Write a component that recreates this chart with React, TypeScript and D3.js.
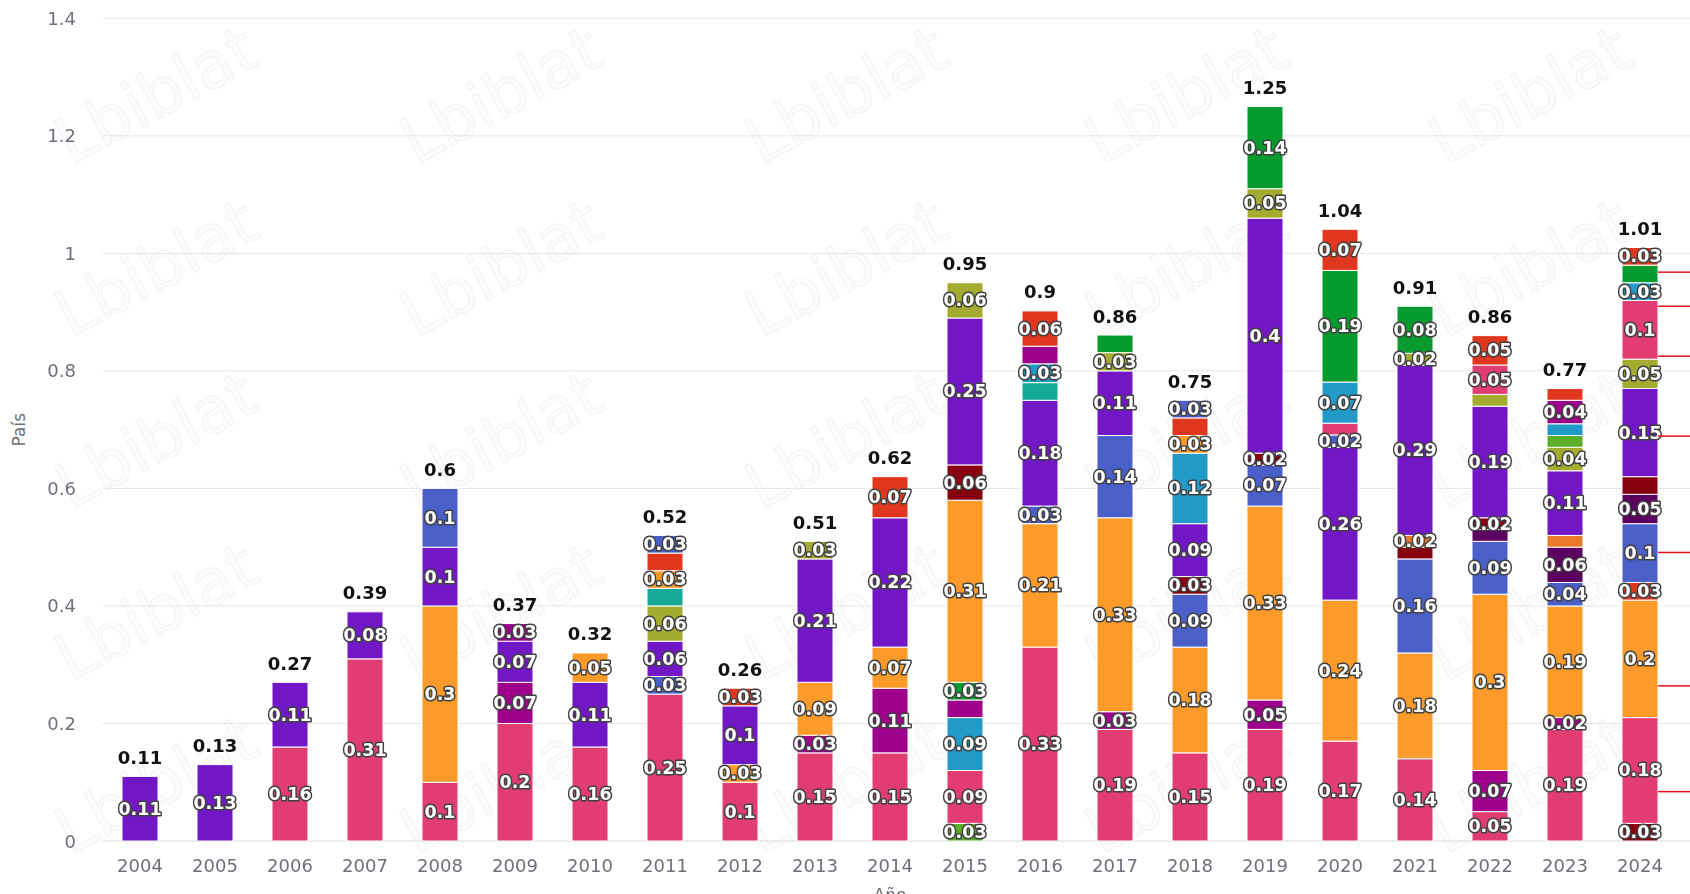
import React from 'react';
import * as d3 from 'd3';

// categories
const years = [
  '2004', '2005', '2006', '2007', '2008', '2009', '2010', '2011', '2012', '2013', '2014',
  '2015', '2016', '2017', '2018', '2019', '2020', '2021', '2022', '2023', '2024',
];

const yTicks = [0, 0.2, 0.4, 0.6, 0.8, 1, 1.2, 1.4];

// series values, one value per year, in stacking order (bottom first)
const darkRed0 = [0, 0, 0, 0, 0, 0, 0, 0, 0, 0, 0, 0, 0, 0, 0, 0, 0, 0, 0, 0, 0.03];
const lightGreen1 = [0, 0, 0, 0, 0, 0, 0, 0, 0, 0, 0, 0.03, 0, 0, 0, 0, 0, 0, 0, 0, 0];
const pink1 = [0, 0, 0.16, 0.31, 0.1, 0.2, 0.16, 0.25, 0.1, 0.15, 0.15, 0.09, 0.33, 0.19, 0.15, 0.19, 0.17, 0.14, 0.05, 0.19, 0.18];
const cyan1 = [0, 0, 0, 0, 0, 0, 0, 0, 0, 0, 0, 0.09, 0, 0, 0, 0, 0, 0, 0, 0, 0];
const magenta1 = [0, 0, 0, 0, 0, 0.07, 0, 0, 0, 0.03, 0.11, 0.03, 0, 0.03, 0, 0.05, 0, 0, 0.07, 0.02, 0];
const green1 = [0, 0, 0, 0, 0, 0, 0, 0, 0, 0, 0, 0.03, 0, 0, 0, 0, 0, 0, 0, 0, 0];
const orange1 = [0, 0, 0, 0, 0.3, 0, 0, 0, 0.03, 0.09, 0.07, 0.31, 0.21, 0.33, 0.18, 0.33, 0.24, 0.18, 0.3, 0.19, 0.2];
const red1 = [0, 0, 0, 0, 0, 0, 0, 0, 0, 0, 0, 0, 0, 0, 0, 0, 0, 0, 0, 0, 0.03];
const blue1 = [0, 0, 0, 0, 0, 0, 0, 0.03, 0, 0, 0, 0, 0.03, 0.14, 0.09, 0.07, 0, 0.16, 0.09, 0.04, 0.1];
const darkPurple1 = [0, 0, 0, 0, 0, 0, 0, 0, 0, 0, 0, 0, 0, 0, 0, 0, 0, 0, 0.02, 0.06, 0.05];
const darkRed1 = [0, 0, 0, 0, 0, 0, 0, 0, 0, 0, 0, 0.06, 0, 0, 0.03, 0.02, 0, 0.02, 0.02, 0, 0.03];
const darkOrange1 = [0, 0, 0, 0, 0, 0, 0, 0, 0, 0, 0, 0, 0, 0, 0, 0, 0, 0.02, 0, 0.02, 0];
const violet = [0.11, 0.13, 0.11, 0.08, 0.1, 0.07, 0.11, 0.06, 0.1, 0.21, 0.22, 0.25, 0.18, 0.11, 0.09, 0.4, 0.26, 0.29, 0.19, 0.11, 0.15];
const blueV = [0, 0, 0, 0, 0, 0, 0, 0, 0, 0, 0, 0, 0, 0, 0, 0, 0.021, 0, 0, 0, 0];
const olive = [0, 0, 0, 0, 0, 0, 0, 0.06, 0, 0.03, 0, 0.06, 0, 0.031, 0, 0.05, 0, 0.02, 0.02, 0.04, 0.05];
const teal = [0, 0, 0, 0, 0, 0, 0, 0.03, 0, 0, 0, 0, 0.03, 0, 0, 0, 0, 0, 0, 0, 0];
const lightGreen2 = [0, 0, 0, 0, 0, 0, 0, 0, 0, 0, 0, 0, 0, 0, 0, 0, 0, 0, 0, 0.02, 0];
const pink2 = [0, 0, 0, 0, 0, 0, 0, 0, 0, 0, 0, 0, 0, 0, 0, 0, 0.02, 0, 0.05, 0, 0.1];
const cyan2 = [0, 0, 0, 0, 0, 0, 0, 0, 0, 0, 0, 0, 0.032, 0, 0.12, 0, 0.07, 0, 0, 0.02, 0.03];
const magenta2 = [0, 0, 0, 0, 0, 0.03, 0, 0, 0, 0, 0, 0, 0.03, 0, 0, 0, 0, 0, 0, 0.04, 0];
const green2 = [0, 0, 0, 0, 0, 0, 0, 0, 0, 0, 0, 0, 0, 0.03, 0, 0.14, 0.19, 0.08, 0, 0, 0.03];
const orange2 = [0, 0, 0, 0, 0, 0, 0.05, 0.03, 0, 0, 0, 0, 0, 0, 0.03, 0, 0, 0, 0, 0, 0];
const red2 = [0, 0, 0, 0, 0, 0, 0, 0.03, 0.03, 0, 0.07, 0, 0.06, 0, 0.03, 0, 0.07, 0, 0.05, 0.02, 0.03];
const blue2 = [0, 0, 0, 0, 0.1, 0, 0, 0.03, 0, 0, 0, 0, 0, 0, 0.03, 0, 0, 0, 0, 0, 0];

// red pointer lines on the right edge (values on the y axis)
const pointerValues = [0.968, 0.91, 0.825, 0.689, 0.491, 0.264, 0.084];

const C = {
  pink: '#e13d73',
  violet: '#7217c5',
  orange: '#fd9b2a',
  blue: '#4a5fc8',
  magenta: '#9d008a',
  red: '#e0381f',
  teal: '#14aa97',
  olive: '#a3ac2f',
  darkRed: '#87000f',
  cyan: '#219ac7',
  green: '#079a2e',
  lightGreen: '#5bae28',
  darkPurple: '#5c005f',
  darkOrange: '#e87a2a',
};

const series = [
  { key: 'darkRed0', color: C.darkRed, values: darkRed0 },
  { key: 'lightGreen1', color: C.lightGreen, values: lightGreen1 },
  { key: 'pink1', color: C.pink, values: pink1 },
  { key: 'cyan1', color: C.cyan, values: cyan1 },
  { key: 'magenta1', color: C.magenta, values: magenta1 },
  { key: 'green1', color: C.green, values: green1 },
  { key: 'orange1', color: C.orange, values: orange1 },
  { key: 'red1', color: C.red, values: red1 },
  { key: 'blue1', color: C.blue, values: blue1 },
  { key: 'darkPurple1', color: C.darkPurple, values: darkPurple1 },
  { key: 'darkRed1', color: C.darkRed, values: darkRed1 },
  { key: 'darkOrange1', color: C.darkOrange, values: darkOrange1 },
  { key: 'violet', color: C.violet, values: violet },
  { key: 'blueV', color: C.blue, values: blueV },
  { key: 'olive', color: C.olive, values: olive },
  { key: 'teal', color: C.teal, values: teal },
  { key: 'lightGreen2', color: C.lightGreen, values: lightGreen2 },
  { key: 'pink2', color: C.pink, values: pink2 },
  { key: 'cyan2', color: C.cyan, values: cyan2 },
  { key: 'magenta2', color: C.magenta, values: magenta2 },
  { key: 'green2', color: C.green, values: green2 },
  { key: 'orange2', color: C.orange, values: orange2 },
  { key: 'red2', color: C.red, values: red2 },
  { key: 'blue2', color: C.blue, values: blue2 },
];

const FONT = '"DejaVu Sans", Verdana, sans-serif';
const fmt = d3.format('.2~f');

// watermark grid (decorative)
const markXs = [156, 501, 846, 1186, 1530];
const markYs = [95, 268, 440, 612, 785];

export default function App() {
  const width = 1690;
  const height = 894;

  const x = d3
    .scaleBand()
    .domain(years)
    .range([102.5, 1677.5])
    .paddingInner(0.52)
    .paddingOuter(0.26);
  const y = d3.scaleLinear().domain([0, 1.4]).range([841, 18.3]);
  const bw = x.bandwidth();

  const rows = years.map((yr, i) => {
    const r: any = { year: yr };
    series.forEach(s => (r[s.key] = s.values[i]));
    return r;
  });
  const stacked = d3.stack().keys(series.map(s => s.key))(rows);

  // inside labels, bigger segments win when two labels overlap
  const labels: { x: number; y: number; text: string; key: string }[] = [];
  years.forEach((yr, i) => {
    const segs = stacked
      .map((layer, si) => ({ si, v: series[si].values[i], y0: layer[i][0], y1: layer[i][1] }))
      .filter(d => d.v > 0);
    const order = [...segs].sort((a, b) => b.v - a.v || b.si - a.si);
    const placed: number[] = [];
    order.forEach(s => {
      const cy = y((s.y0 + s.y1) / 2);
      if (placed.every(p => Math.abs(p - cy) >= 25)) {
        placed.push(cy);
        labels.push({ x: (x(yr) as number) + bw / 2, y: cy, text: fmt(s.v), key: yr + '-' + s.si });
      }
    });
  });

  const totals = years.map((yr, i) => d3.sum(series, s => s.values[i]));
  const lastX = (x(years[years.length - 1]) as number) + bw;

  return (
    <div>
      <style>{'body{margin:0;background:#fff}'}</style>
      <svg width={width} height={height} style={{ display: 'block', background: '#fff' }} fontFamily={FONT}>
        {/* watermark */}
        <g opacity={0.3}>
          {markYs.map(my =>
            markXs.map(mx => (
              <text
                key={mx + '-' + my}
                transform={`translate(${mx},${my}) rotate(-28)`}
                textAnchor="middle"
                dominantBaseline="central"
                fontSize={64}
                fill="#f6f6f6"
                stroke="#dcdcdc"
                strokeWidth={1.5}
              >
                Lbiblat
              </text>
            ))
          )}
        </g>

        {/* grid lines */}
        {yTicks.map(t => (
          <line
            key={'g' + t}
            x1={102.5}
            x2={width}
            y1={y(t)}
            y2={y(t)}
            stroke={t === 0 ? '#d3d9e6' : '#e3e6ec'}
            strokeWidth={1}
          />
        ))}

        {/* y tick labels */}
        {yTicks.map(t => (
          <text
            key={'yt' + t}
            x={76}
            y={y(t)}
            textAnchor="end"
            dominantBaseline="central"
            fontSize={18}
            fill="#6e7079"
          >
            {fmt(t)}
          </text>
        ))}

        <text
          transform={`translate(19,${y(0.7)}) rotate(-90)`}
          textAnchor="middle"
          dominantBaseline="central"
          fontSize={17}
          fill="#6e7079"
        >
          País
        </text>

        {/* x tick labels */}
        {years.map(yr => (
          <text
            key={'xt' + yr}
            x={(x(yr) as number) + bw / 2}
            y={865}
            textAnchor="middle"
            dominantBaseline="central"
            fontSize={18}
            fill="#6e7079"
          >
            {yr}
          </text>
        ))}
        <text x={890} y={888} textAnchor="middle" dominantBaseline="hanging" fontSize={17} fill="#6e7079">
          Año
        </text>

        {/* stacked bars */}
        {stacked.map((layer, si) => (
          <g key={series[si].key} fill={series[si].color}>
            {layer.map((d, i) =>
              d[1] - d[0] > 0 ? (
                <rect
                  key={years[i]}
                  x={x(years[i])}
                  y={y(d[1])}
                  width={bw}
                  height={y(d[0]) - y(d[1])}
                  stroke="#fff"
                  strokeWidth={1}
                />
              ) : null
            )}
          </g>
        ))}

        {/* segment labels */}
        {labels.map(l => (
          <text
            key={l.key}
            x={l.x}
            y={l.y}
            textAnchor="middle"
            dominantBaseline="central"
            fontSize={17.5}
            fontWeight="bold"
            fill="#fff"
            stroke="#404040"
            strokeWidth={3}
            paintOrder="stroke"
            strokeLinejoin="round"
          >
            {l.text}
          </text>
        ))}

        {/* totals */}
        {years.map((yr, i) => (
          <text
            key={'tot' + yr}
            x={(x(yr) as number) + bw / 2}
            y={y(totals[i]) - 19}
            textAnchor="middle"
            dominantBaseline="central"
            fontSize={18}
            fontWeight="bold"
            fill="#111"
          >
            {fmt(totals[i])}
          </text>
        ))}

        {/* red pointer lines */}
        {pointerValues.map(v => (
          <line key={'p' + v} x1={lastX} x2={width} y1={y(v)} y2={y(v)} stroke="#e8101a" strokeWidth={1.5} />
        ))}
      </svg>
    </div>
  );
}
